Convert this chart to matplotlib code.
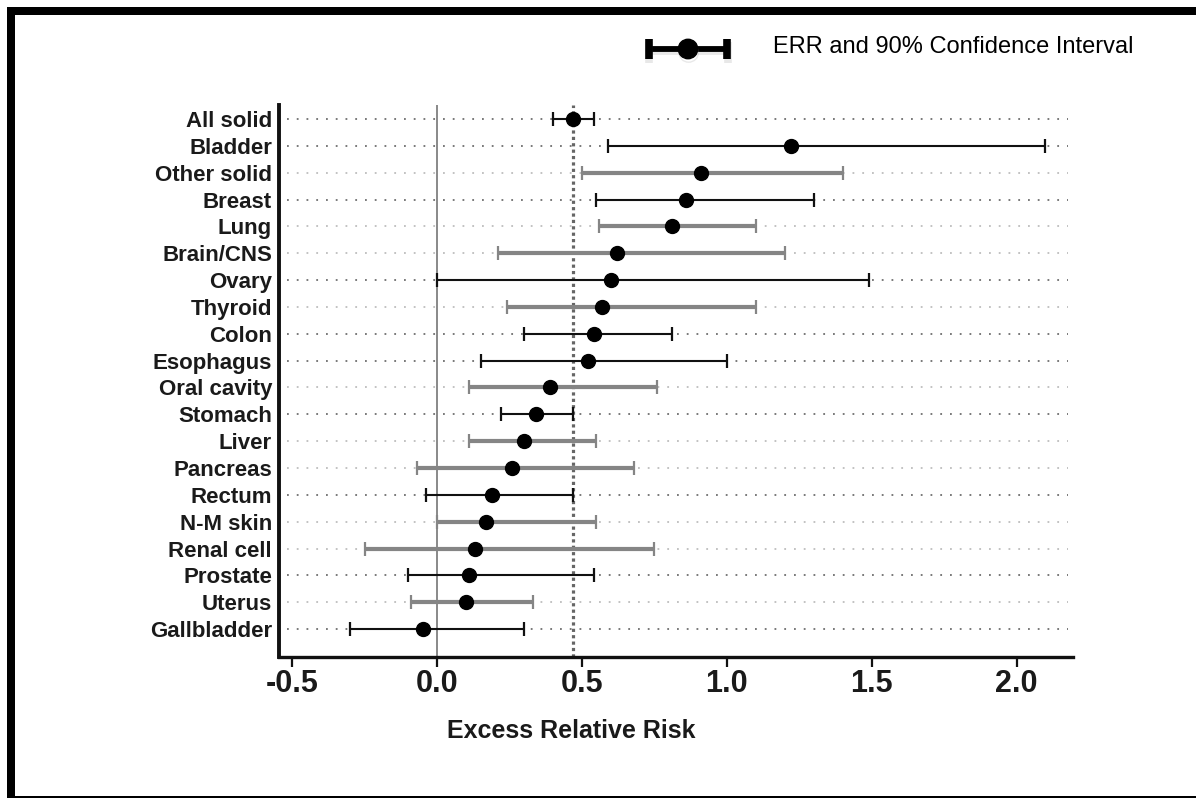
import numpy as np
import matplotlib
matplotlib.use("Agg")
import matplotlib.pyplot as plt
import matplotlib.patheffects as pe
from matplotlib.patches import Rectangle

plt.rcParams["font.family"] = ["Liberation Sans", "DejaVu Sans"]

# Excess relative risk per cancer site with 90% confidence limits
sites = ["All solid", "Bladder", "Other solid", "Breast", "Lung", "Brain/CNS",
         "Ovary", "Thyroid", "Colon", "Esophagus", "Oral cavity", "Stomach",
         "Liver", "Pancreas", "Rectum", "N-M skin", "Renal cell", "Prostate",
         "Uterus", "Gallbladder"]
err = [0.47, 1.22, 0.91, 0.86, 0.81, 0.62, 0.60, 0.57, 0.54, 0.52,
       0.39, 0.34, 0.30, 0.26, 0.19, 0.17, 0.13, 0.11, 0.10, -0.05]
ci_low = [0.40, 0.59, 0.50, 0.55, 0.56, 0.21, 0.00, 0.24, 0.30, 0.15,
          0.11, 0.22, 0.11, -0.07, -0.04, 0.00, -0.25, -0.10, -0.09, -0.30]
ci_high = [0.54, 2.10, 1.40, 1.30, 1.10, 1.20, 1.49, 1.10, 0.81, 1.00,
           0.76, 0.47, 0.55, 0.68, 0.47, 0.55, 0.75, 0.54, 0.33, 0.30]
x_ticks = [-0.5, 0.0, 0.5, 1.0, 1.5, 2.0]

W, H = 1196, 798
fig = plt.figure(figsize=(W / 100, H / 100), dpi=100)
fig.patch.set_facecolor("white")

def px_box(x0, y0, x1, y1):
    return [x0 / W, 1 - y1 / H, (x1 - x0) / W, (y1 - y0) / H]

ax = fig.add_axes(px_box(279, 105, 1073, 657))
n = len(sites)
ypos = np.arange(n)
ax.set_xlim(-0.546, 2.195)
ax.set_ylim(n - 1 + 1.04, -0.52)

# alternating row shading: black rows and grey rows
grey_rows = {2, 4, 5, 7, 10, 12, 13, 15, 16, 18}

for i in range(n):
    grey = i in grey_rows
    ax.hlines(ypos[i], -0.52, 2.177, colors="#bdbdbd" if grey else "#6e6e6e",
              linestyles=(0, (1, 4.4)), linewidth=1.3, zorder=1)

ax.axvline(0, color="#6a6a6a", linewidth=1.1, zorder=2)
ax.axvline(err[0], color="#666666", linewidth=2.3, linestyle=(0, (1, 1)), zorder=2)

for i in range(n):
    grey = i in grey_rows
    e = err[i]
    cont = ax.errorbar(e, ypos[i], xerr=[[e - ci_low[i]], [ci_high[i] - e]],
                       fmt="none", ecolor="#858585" if grey else "#111111",
                       elinewidth=3.0 if grey else 1.5, capsize=5,
                       capthick=1.6, zorder=3)
    for cap in cont[1]:
        cap.set_color("#2a2a2a" if grey else "#111111")

ax.plot(err, ypos, "o", color="black", markersize=10, zorder=5)

ax.set_yticks(ypos)
ax.set_yticklabels(sites, fontsize=16, fontweight="bold", color="#1a1a1a")
ax.tick_params(axis="y", length=0, pad=5)
ax.set_xticks(x_ticks)
ax.set_xticklabels([f"{t:.1f}" for t in x_ticks], fontsize=22,
                   fontweight="bold", color="#1a1a1a")
ax.tick_params(axis="x", length=7, width=1.6, color="#111111", pad=2)

for side in ("top", "right"):
    ax.spines[side].set_visible(False)
ax.spines["left"].set_linewidth(2.8)
ax.spines["bottom"].set_linewidth(2.4)
ax.spines["left"].set_color("#111111")
ax.spines["bottom"].set_color("#111111")

fig.text(571 / W, 1 - 731 / H, "Excess Relative Risk", fontsize=18,
         fontweight="bold", ha="center", va="center", color="#1a1a1a")

# key symbol and caption at the top right
lax = fig.add_axes(px_box(644, 30, 732, 68))
lax.set_xlim(-1.12, 1.12)
lax.set_ylim(-1, 1)
lax.axis("off")
shadow = [pe.SimpleLineShadow(offset=(0.5, -2.5), shadow_color="#9a9a9a", alpha=0.22),
          pe.Normal()]
key = lax.errorbar([0], [0], xerr=[1], fmt="o", color="black", markersize=14,
                   elinewidth=4.2, capsize=7.5, capthick=5.5)
for art in [key[0], *key[1], *key[2]]:
    art.set_path_effects(shadow)
fig.text(773 / W, 1 - 47 / H, "ERR and 90% Confidence Interval", fontsize=17,
         ha="left", va="center", color="black")

# outer frame (left and top heavy, thin bottom rule)
fig.add_artist(Rectangle((7 / W, 0), 8 / W, (H - 7) / H, transform=fig.transFigure,
                         facecolor="black", edgecolor="none"))
fig.add_artist(Rectangle((7 / W, 1 - 15 / H), 1, 8 / H, transform=fig.transFigure,
                         facecolor="black", edgecolor="none"))
fig.add_artist(Rectangle((7 / W, 0), 1, 2 / H, transform=fig.transFigure,
                         facecolor="black", edgecolor="none"))

fig.savefig("out.png", dpi=100)
